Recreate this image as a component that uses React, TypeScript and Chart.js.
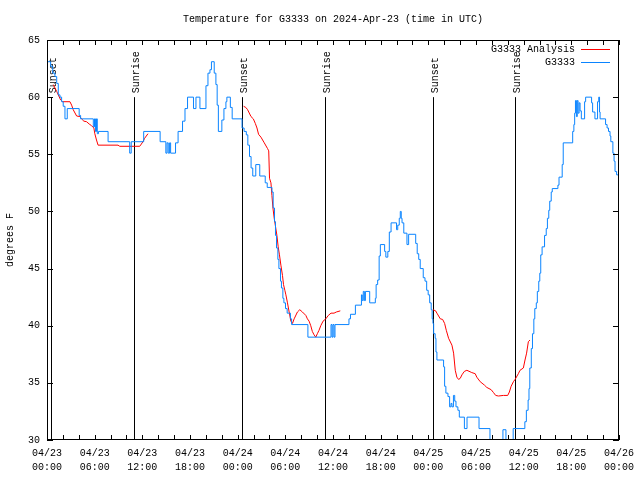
import { useEffect, useRef } from 'react';
import { Chart, registerables } from 'chart.js';

Chart.register(...registerables);

const FONT = "'Liberation Mono', 'DejaVu Sans Mono', monospace";

const titleText = 'Temperature for G3333 on 2024-Apr-23 (time in UTC)';
const yAxisTitle = 'degrees F';
const obsLabel = 'G3333';
const anaLabel = 'G3333 Analysis';

const xTickHours = [0, 6, 12, 18, 24, 30, 36, 42, 48, 54, 60, 66, 72];
const xTickDates = ['04/23', '04/23', '04/23', '04/23', '04/24', '04/24', '04/24', '04/24', '04/25', '04/25', '04/25', '04/25', '04/26'];
const xTickTimes = ['00:00', '06:00', '12:00', '18:00', '00:00', '06:00', '12:00', '18:00', '00:00', '06:00', '12:00', '18:00', '00:00'];
const xMinorTickHours = [0, 2, 4, 6, 8, 10, 12, 14, 16, 18, 20, 22, 24, 26, 28, 30, 32, 34, 36, 38, 40, 42, 44, 46, 48, 50, 52, 54, 56, 58, 60, 62, 64, 66, 68, 70, 72];
const yTickValues = [30, 35, 40, 45, 50, 55, 60, 65];

const sunEventHours = [0.5, 10.98, 24.55, 34.97, 48.6, 58.97];
const sunEventNames = ['Sunset', 'Sunrise', 'Sunset', 'Sunrise', 'Sunset', 'Sunrise'];
const sunLabelTemp = 60;

const obsHours = [
  0.05, 0.46, 0.72, 1.0, 1.22, 1.42, 1.63, 1.84, 2.04, 2.26, 2.55, 4.05, 4.23, 5.83, 5.98, 6.1, 6.23, 6.33, 6.48,
  7.69, 10.41, 10.6, 12.17, 14.24, 14.96, 15.11, 15.26, 15.43, 15.56, 16.18, 16.5, 17.06, 17.37, 17.69, 18.44,
  18.75, 19.25, 20.01, 20.26, 20.51, 20.7, 21.05, 21.26, 21.42, 21.57, 22.01, 22.27, 22.52, 22.64, 23.08, 23.31,
  24.55, 24.81, 25.09, 25.28, 25.49, 25.69, 25.9, 26.28, 26.78, 27.47, 27.72, 28.32, 28.47, 28.64, 28.76, 28.89,
  29.06, 29.19, 29.39, 29.51, 29.69, 29.82, 30.02, 30.23, 30.64, 30.79, 32.84, 35.75, 35.88, 36.0, 36.13, 36.25,
  38.01, 38.2, 38.82, 39.58, 39.68, 39.81, 39.95, 40.08, 40.62, 41.33, 41.43, 41.62, 41.81, 41.96, 42.5, 42.65,
  42.9, 43.09, 43.31, 44.0, 44.15, 44.34, 44.47, 44.59, 44.69, 44.91, 45.31, 45.52, 46.41, 46.6, 46.79, 46.98,
  47.36, 47.58, 47.79, 47.98, 48.17, 48.36, 48.48, 48.58, 48.67, 48.86, 48.96, 49.08, 49.92, 50.05, 50.21, 50.47,
  50.68, 50.85, 50.97, 51.16, 51.32, 51.48, 51.72, 51.9, 52.54, 52.87, 54.38, 55.76, 57.39, 57.77, 58.68, 60.15,
  60.34, 60.56, 60.67, 60.77, 60.96, 61.11, 61.28, 61.4, 61.59, 61.72, 61.9, 62.03, 62.15, 62.32, 62.63, 62.84,
  62.99, 63.16, 63.28, 63.47, 63.6, 64.31, 64.45, 64.85, 64.98, 66.17, 66.32, 66.42, 66.52, 66.64, 66.75, 66.85,
  66.98, 67.1, 67.26, 67.67, 67.8, 68.55, 68.68, 68.97, 69.3, 69.45, 69.55, 69.62, 70.31, 70.5, 70.68, 70.87,
  70.97, 71.23, 71.38, 71.5, 71.7, 71.94,
];
const obsTemps = [
  63.1, 62.7, 62.1, 61.8, 61.2, 60.2, 60.0, 59.6, 59.2, 58.1, 59.0, 58.4, 58.1, 57.4, 58.1, 57.0, 58.1, 56.8, 57.0,
  56.1, 55.1, 56.1, 57.0, 56.1, 55.1, 56.0, 55.1, 56.0, 55.1, 56.0, 57.0, 57.9, 59.0, 60.0, 59.0,
  60.0, 59.0, 61.0, 62.1, 62.4, 63.1, 62.1, 61.1, 59.3, 57.0, 58.0, 59.0, 59.6, 60.0, 59.1, 58.1,
  57.3, 57.0, 56.7, 55.8, 54.8, 53.8, 53.1, 54.1, 53.1, 52.5, 52.1, 51.7, 50.3, 49.1, 47.9, 46.8,
  45.8, 45.0, 43.9, 43.3, 42.4, 42.0, 41.5, 41.1, 40.6, 40.1, 39.0, 40.1, 39.0, 40.1, 39.0, 40.1,
  40.6, 41.0, 41.8, 42.7, 42.2, 43.0, 42.2, 43.0, 42.0, 42.4, 43.6, 44.0, 46.1, 47.1, 46.5, 46.0,
  46.5, 48.2, 49.0, 48.4, 48.8, 49.4, 50.0, 49.4, 49.0, 48.1, 47.1, 48.0, 47.2, 46.3, 45.8, 45.0,
  44.2, 43.9, 43.1, 42.7, 42.0, 41.4, 40.6, 40.2, 39.3, 38.9, 37.7, 37.0, 36.4, 34.7, 34.1, 33.8,
  32.9, 33.2, 32.9, 33.9, 33.4, 32.9, 32.6, 32.0, 31.0, 32.0, 31.0, 29.5, 30.9, 29.5, 31.0, 31.6,
  32.6, 33.5, 34.5, 36.3, 38.0, 39.3, 40.6, 41.5, 42.0, 43.0, 43.9, 44.6, 46.2, 46.9, 47.9, 48.5,
  49.4, 50.1, 50.9, 51.7, 52.0, 52.3, 53.0, 54.1, 56.0, 57.0, 57.6, 58.6, 59.7, 58.3, 59.7, 58.6,
  59.5, 58.8, 58.1, 59.6, 60.0, 59.5, 58.7, 58.1, 59.6, 60.0, 58.7, 58.1, 57.6, 57.3, 57.0, 56.6,
  56.1, 55.1, 54.4, 53.5, 53.2, 53.2,
];

const anaHours = [
  0.79, 1.22, 1.72, 1.97, 2.89, 3.1, 3.3, 3.73, 4.14, 4.35, 4.64, 4.98, 5.31, 5.61, 5.9, 6.02, 6.23, 6.43, 8.94,
  9.16, 11.67, 11.88, 12.08, 12.29, 12.71,
  18,
  24.75, 25.02, 25.25, 25.68, 25.97, 26.22, 26.43, 26.63, 26.93, 27.35, 27.76, 27.91, 28.01, 28.19, 28.31, 28.44,
  28.6, 28.76, 28.94, 29.1, 29.26, 29.44, 29.64, 29.77, 29.94, 30.07, 30.27, 30.48, 30.7, 30.9, 31.11, 31.52,
  31.82, 32.15, 32.58, 32.78, 32.99, 33.2, 33.4, 33.62, 33.83, 34.03, 34.24, 34.46, 34.75, 35.09, 35.41, 35.75,
  36.13, 36.42, 36.92,
  42,
  48.58, 48.92, 49.08, 49.51, 49.8, 50.05, 50.26, 50.55, 50.97, 51.18, 51.39, 51.59, 51.81, 52.02, 52.23, 52.53,
  52.85, 53.47, 53.9, 54.1, 54.53, 55.07, 55.36, 55.91, 56.2, 56.48, 56.82, 57.45, 57.99, 58.2, 58.42, 58.71,
  58.92, 59.33, 59.54, 59.96, 60.17, 60.37, 60.59, 60.8,
];
const anaTemps = [
  61.1, 60.5, 59.75, 59.6, 59.6, 59.3, 58.9, 58.35, 58.3, 58.1, 57.9, 57.85, 57.65, 57.5, 57.3, 56.8, 56.25, 55.8, 55.8,
  55.7, 55.7, 55.9, 56.1, 56.4, 56.8,
  null,
  59.2, 59.1, 58.9, 58.3, 58.1, 57.7, 57.3, 56.75, 56.5, 56.0, 55.5, 55.3, 52.9, 52.5, 51.4, 50.3,
  49.4, 48.7, 47.9, 46.9, 46.2, 45.3, 44.4, 43.6, 43.1, 42.7, 42.0, 41.2, 40.4, 40.2, 40.6, 41.2,
  41.4, 41.2, 40.9, 40.6, 40.4, 40.0, 39.5, 39.2, 39.0, 39.3, 39.6, 40.0, 40.4, 40.6, 40.9, 41.1,
  41.1, 41.2, 41.3,
  null,
  41.4, 41.3, 41.1, 40.6, 40.55, 40.2, 39.6, 38.9, 38.3, 37.6, 36.1, 35.5, 35.3, 35.4, 35.7, 36.0,
  36.1, 35.9, 35.8, 35.5, 35.1, 34.8, 34.6, 34.4, 34.15, 33.9, 33.85, 33.9, 33.9, 34.2, 34.7, 35.1,
  35.3, 35.8, 36.1, 36.3, 37.0, 37.6, 38.6, 38.75,
];

const OBS_COLOR = '#0a84ff';
const ANA_COLOR = '#ff0000';

const decorPlugin = {
  id: 'decor',
  beforeDatasetsDraw(chart: any) {
    const { ctx, chartArea: a, scales } = chart;
    const x = scales.x;
    const y = scales.y;
    ctx.save();
    ctx.strokeStyle = '#000';
    ctx.fillStyle = '#000';
    ctx.lineWidth = 1;
    ctx.font = `10px ${FONT}`;
    sunEventHours.forEach((h, i) => {
      const px = Math.round(x.getPixelForValue(h)) + 0.5;
      const top = y.getPixelForValue(sunLabelTemp);
      ctx.beginPath();
      ctx.moveTo(px, top);
      ctx.lineTo(px, a.bottom);
      ctx.stroke();
      ctx.save();
      ctx.translate(px + 1.5, top - 4);
      ctx.rotate(-Math.PI / 2);
      ctx.textAlign = 'left';
      ctx.textBaseline = 'middle';
      ctx.fillText(sunEventNames[i], 0, 0);
      ctx.restore();
    });
    ctx.restore();
  },
  afterDraw(chart: any) {
    const { ctx, chartArea: a, scales } = chart;
    const x = scales.x;
    const y = scales.y;
    ctx.save();
    ctx.strokeStyle = '#000';
    ctx.fillStyle = '#000';
    ctx.lineWidth = 1;
    // frame
    ctx.strokeRect(a.left + 0.5, a.top + 0.5, a.right - a.left - 1, a.bottom - a.top - 1);
    // ticks
    ctx.beginPath();
    xMinorTickHours.forEach((h) => {
      const px = Math.round(x.getPixelForValue(h)) + 0.5;
      ctx.moveTo(px, a.bottom);
      ctx.lineTo(px, a.bottom - 5);
      ctx.moveTo(px, a.top);
      ctx.lineTo(px, a.top + 5);
    });
    yTickValues.forEach((v) => {
      const py = Math.round(y.getPixelForValue(v)) + 0.5;
      ctx.moveTo(a.left, py);
      ctx.lineTo(a.left + 6, py);
      ctx.moveTo(a.right, py);
      ctx.lineTo(a.right - 6, py);
    });
    ctx.stroke();
    // title
    ctx.font = `10px ${FONT}`;
    ctx.textAlign = 'center';
    ctx.textBaseline = 'middle';
    ctx.fillText(titleText, 333, 19);
    // y axis title
    ctx.save();
    ctx.translate(10, (a.top + a.bottom) / 2);
    ctx.rotate(-Math.PI / 2);
    ctx.fillText(yAxisTitle, 0, 0);
    ctx.restore();
    // legend
    const entries = [
      { label: anaLabel, color: ANA_COLOR, yy: 49 },
      { label: obsLabel, color: OBS_COLOR, yy: 62 },
    ];
    entries.forEach((e) => {
      ctx.fillStyle = '#000';
      ctx.textAlign = 'right';
      ctx.textBaseline = 'middle';
      ctx.fillText(e.label, 575, e.yy);
      ctx.strokeStyle = e.color;
      ctx.beginPath();
      ctx.moveTo(581, e.yy + 0.5);
      ctx.lineTo(610, e.yy + 0.5);
      ctx.stroke();
    });
    ctx.restore();
  },
};

export default function App() {
  const canvasRef = useRef<HTMLCanvasElement | null>(null);

  useEffect(() => {
    const canvas = canvasRef.current;
    if (!canvas) return;
    Chart.defaults.font.family = FONT;
    Chart.defaults.font.size = 10;
    Chart.defaults.color = '#000';

    const obsData = obsHours.map((h, i) => ({ x: h, y: obsTemps[i] }));
    const anaData = anaHours.map((h, i) => ({ x: h, y: anaTemps[i] }));

    const chart = new Chart(canvas, {
      type: 'line',
      data: {
        datasets: [
          {
            label: obsLabel,
            data: obsData as any,
            borderColor: OBS_COLOR,
            borderWidth: 1,
            pointRadius: 0,
            stepped: 'before',
            fill: false,
          },
          {
            label: anaLabel,
            data: anaData as any,
            borderColor: ANA_COLOR,
            borderWidth: 1,
            pointRadius: 0,
            tension: 0,
            spanGaps: false,
            fill: false,
          },
        ],
      },
      options: {
        responsive: false,
        animation: false,
        devicePixelRatio: 1,
        layout: { padding: { top: 40, right: 19, left: 0, bottom: 0 } },
        plugins: {
          legend: { display: false },
          title: { display: false },
          tooltip: { enabled: false },
        },
        scales: {
          x: {
            type: 'linear',
            min: 0,
            max: 72,
            grid: { display: false, drawTicks: false },
            border: { display: false },
            afterBuildTicks: (scale: any) => {
              scale.ticks = xTickHours.map((v) => ({ value: v }));
            },
            afterFit: (scale: any) => {
              scale.height = 40;
            },
            ticks: {
              autoSkip: false,
              maxRotation: 0,
              padding: 6,
              font: { family: FONT, size: 10, lineHeight: 1.4 },
              color: '#000',
              callback: (value: any) => {
                const i = xTickHours.indexOf(Number(value));
                return i >= 0 ? [xTickDates[i], xTickTimes[i]] : '';
              },
            },
          },
          y: {
            type: 'linear',
            min: 30,
            max: 65,
            grid: { display: false, drawTicks: false },
            border: { display: false },
            afterBuildTicks: (scale: any) => {
              scale.ticks = yTickValues.map((v) => ({ value: v }));
            },
            afterFit: (scale: any) => {
              scale.width = 47;
            },
            ticks: {
              padding: 7,
              font: { family: FONT, size: 10 },
              color: '#000',
              callback: (value: any) => String(value),
            },
          },
        },
      },
      plugins: [decorPlugin],
    });
    return () => chart.destroy();
  }, []);

  return (
    <div style={{ position: 'fixed', left: 0, top: 0, width: 640, height: 480, background: '#fff' }}>
      <canvas ref={canvasRef} width={640} height={480} style={{ width: 640, height: 480, display: 'block' }} />
    </div>
  );
}
